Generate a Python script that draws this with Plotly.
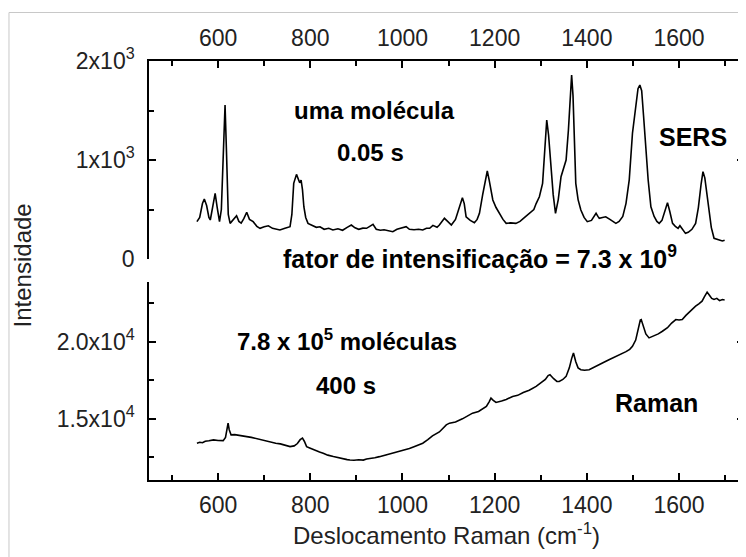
import plotly.graph_objects as go

# ---- data ----
sers_x = [554, 560, 566, 570, 575, 580, 583, 588, 593.5, 598, 603, 607, 611, 615, 618, 622, 626, 632, 640, 645,
          650, 656, 662, 668, 676, 684, 691, 700, 709, 718, 726, 734, 745, 756, 760, 764, 770, 774, 777, 780,
          783, 786, 790, 795, 805, 813, 821, 830, 840, 849, 860, 870, 880, 889, 897, 905, 914, 922, 929, 936,
          943, 952, 960, 970, 979, 988, 995, 1008, 1015, 1025, 1035, 1044, 1052, 1059, 1066, 1075, 1080, 1091, 1098, 1106,
          1115, 1122, 1130, 1134, 1138, 1147, 1156, 1162, 1167, 1174, 1180, 1184, 1188, 1196, 1203, 1210, 1218, 1225, 1235, 1246,
          1255, 1265, 1275, 1285, 1290, 1297, 1304, 1309, 1313, 1317, 1322, 1327, 1332, 1338, 1344, 1350, 1355, 1360, 1364, 1367,
          1370, 1373, 1376, 1381, 1387, 1394, 1401, 1410, 1416, 1420, 1424, 1427, 1434, 1441, 1450, 1456, 1463, 1470, 1478, 1485,
          1492, 1499, 1506, 1511, 1515, 1519, 1523, 1528, 1533, 1539, 1546, 1552, 1557, 1563, 1569, 1575, 1580, 1586, 1592, 1598,
          1602, 1607, 1614, 1620, 1628, 1636, 1642, 1648, 1652, 1656, 1661, 1665, 1670, 1676, 1684, 1694, 1699]
sers_y = [377, 420, 560, 606, 540, 420, 394, 520, 663, 520, 377, 500, 1100, 1555, 1100, 450, 360, 390, 437, 380,
          363, 410, 472, 400, 377, 330, 310, 325, 336, 310, 300, 293, 310, 326, 450, 764, 855, 800, 770, 798,
          700, 528, 420, 360, 340, 320, 326, 300, 310, 293, 305, 290, 320, 343, 315, 300, 312, 310, 330, 350,
          300, 290, 295, 285, 276, 300, 310, 326, 300, 295, 300, 293, 310, 310, 340, 320, 343, 411, 380, 343,
          400, 500, 619, 560, 427, 390, 367, 400, 461, 650, 820, 889, 800, 596, 520, 461, 400, 360, 365, 360,
          380, 420, 461, 500, 560, 629, 764, 1100, 1404, 1250, 932, 650, 461, 600, 831, 920, 1000, 1300, 1700, 1858,
          1650, 1100, 764, 600, 495, 420, 377, 390, 430, 461, 430, 411, 420, 427, 400, 380, 360, 380, 430, 562,
          800, 1270, 1550, 1720, 1757, 1700, 1450, 1101, 800, 528, 430, 380, 360, 390, 480, 569, 480, 360, 330, 310,
          336, 300, 259, 270, 300, 360, 520, 760, 882, 820, 650, 495, 320, 209, 195, 182, 190]

raman_x = [554, 560, 566, 572, 580, 590, 600, 611, 616, 619, 621.6, 624, 628, 636, 645, 655, 662, 672, 682, 693,
           705, 715, 725, 735, 745, 756, 765, 772, 778, 783, 787, 792, 800, 810, 820, 828, 838, 850, 860, 870,
           880, 886, 895, 905, 915, 922, 932, 940, 950, 960, 972, 985, 994, 1005, 1015, 1025, 1035, 1044, 1055, 1065,
           1080, 1095, 1102, 1115, 1130, 1140, 1152, 1165, 1175, 1182, 1188, 1192, 1197, 1203, 1215, 1225, 1239, 1250, 1262, 1275,
           1290, 1300, 1310, 1316, 1320, 1328, 1335, 1340, 1348, 1355, 1362, 1367, 1371, 1376, 1381, 1387, 1395, 1405, 1415, 1425,
           1436, 1448, 1460, 1472, 1485, 1493, 1499, 1506, 1512, 1516, 1518, 1522, 1528, 1535, 1545, 1555, 1564, 1575, 1584, 1593,
           1600, 1607, 1615, 1625, 1636, 1643, 1650, 1655, 1661, 1666, 1671, 1676, 1682, 1688, 1694, 1699]
raman_y = [13420, 13480, 13450, 13550, 13580, 13636, 13600, 13591, 13800, 14400, 14721, 14300, 13961, 13980, 13920, 13900, 13851, 13800, 13720, 13650,
           13571, 13500, 13420, 13380, 13280, 13201, 13250, 13400, 13650, 13747, 13550, 13201, 13100, 12950, 12850, 12773, 12650, 12560, 12480, 12400,
           12360, 12338, 12320, 12350, 12330, 12400, 12430, 12480, 12552, 12630, 12720, 12800, 12877, 12980, 13080, 13200, 13320, 13422, 13650, 13900,
           14150, 14611, 14721, 14800, 15000, 15150, 15370, 15480, 15650, 15800, 16100, 16344, 16200, 16060, 16150, 16250, 16448, 16520, 16700, 16850,
           17098, 17300, 17550, 17800, 17858, 17600, 17420, 17422, 17550, 17747, 18300, 18900, 19267, 18700, 18300, 18182, 18150, 18182, 18350, 18500,
           18650, 18831, 19000, 19150, 19350, 19500, 19695, 20100, 20800, 21400, 21430, 21000, 20500, 20241, 20350, 20500, 20670, 20900, 21200, 21430,
           21400, 21430, 21700, 22000, 22293, 22450, 22618, 22900, 23203, 23000, 22800, 22728, 22800, 22650, 22728, 22700]

x_tickvals = [600, 800, 1000, 1200, 1400, 1600]
x_ticktext = ["600", "800", "1000", "1200", "1400", "1600"]
x_minor = [500, 700, 900, 1100, 1300, 1500, 1700]
sers_tickvals = [0, 1000, 2000]
sers_ticktext = ["0", "1x10<sup>3</sup>", "2x10<sup>3</sup>"]
sers_minor = [500, 1500]
raman_tickvals = [15000, 20000]
raman_ticktext = ["1.5x10<sup>4</sup>", "2.0x10<sup>4</sup>"]
raman_minor = [12500, 17500, 22500]

FONT = "Liberation Sans, Arial, Helvetica, sans-serif"
OFF = 8  # page body margin
W, H = 746 - OFF, 557 - OFF
ML, MR, MT, MB = 149 - OFF, 0, 61 - OFF, 557 - 480
PW, PH = W - ML - MR, H - MT - MB


def px(xp):  # page x pixel -> paper
    return (xp - OFF - ML) / PW


def py(yp):  # page y pixel -> paper
    return (H - MB - (yp - OFF)) / PH


fig = go.Figure()
fig.add_trace(go.Scatter(x=sers_x, y=sers_y, mode="lines", line=dict(color="black", width=1.6),
                         xaxis="x", yaxis="y", showlegend=False, hoverinfo="skip"))
fig.add_trace(go.Scatter(x=raman_x, y=raman_y, mode="lines", line=dict(color="black", width=1.6),
                         xaxis="x2", yaxis="y2", showlegend=False, hoverinfo="skip"))

xrange = [450, 1741]
common_x = dict(range=xrange, showgrid=False, zeroline=False, showline=True, linecolor="black", linewidth=1.5,
                ticks="inside", ticklen=7, tickwidth=1.5, tickcolor="black",
                tickmode="array", tickvals=x_tickvals, ticktext=x_ticktext,
                minor=dict(tickmode="array", tickvals=x_minor, ticks="inside", ticklen=5, tickwidth=1.5, tickcolor="black"),
                tickfont=dict(family=FONT, size=23, color="#222"), ticklabelstandoff=4)
common_y = dict(showgrid=False, zeroline=False, showline=True, linecolor="black", linewidth=1.5,
                ticks="inside", ticklen=7, tickwidth=1.5, tickcolor="black", mirror="allticks",
                tickfont=dict(family=FONT, size=23, color="#222"), ticklabelstandoff=8)

top_lo = py(259)
bot_hi = py(282)

fig.update_layout(
    width=W, height=H,
    margin=dict(l=ML, r=MR, t=MT, b=MB),
    paper_bgcolor="white", plot_bgcolor="white",
    xaxis=dict(**common_x, anchor="y", side="top", domain=[0, 1]),
    yaxis=dict(**common_y, domain=[top_lo, 1], range=[0, 2000], anchor="x",
               tickmode="array", tickvals=sers_tickvals, ticktext=sers_ticktext,
               minor=dict(tickmode="array", tickvals=sers_minor, ticks="inside", ticklen=5, tickwidth=1.5, tickcolor="black")),
    xaxis2=dict(**common_x, anchor="y2", side="bottom", domain=[0, 1],
                title=dict(text="Deslocamento Raman (cm<sup>-1</sup>)", font=dict(family=FONT, size=24, color="#222"), standoff=10)),
    yaxis2=dict(**common_y, domain=[0, bot_hi], range=[11040, 23860], anchor="x2",
                tickmode="array", tickvals=raman_tickvals, ticktext=raman_ticktext,
                minor=dict(tickmode="array", tickvals=raman_minor, ticks="inside", ticklen=5, tickwidth=1.5, tickcolor="black")),
)


def add_text(text, xp, yp, size=24, angle=0, bold=True):
    fig.add_annotation(text=f"<b>{text}</b>" if bold else text, xref="paper", yref="paper",
                       x=px(xp), y=py(yp), showarrow=False, xanchor="center", yanchor="middle",
                       textangle=angle, font=dict(family=FONT, size=size, color="black"))


add_text("uma molécula", 375, 110)
add_text("0.05 s", 371, 152)
add_text("SERS", 695, 137, size=25)
add_text("fator de intensificação = 7.3 x 10<sup>9</sup>", 481, 257, size=25)
add_text("7.8 x 10<sup>5</sup> moléculas", 348, 340)
add_text("400 s", 347, 385)
add_text("Raman", 658, 403, size=25)
fig.add_annotation(text="Intensidade", xref="paper", yref="paper", x=px(22), y=py(265), showarrow=False,
                   textangle=-90, xanchor="center", yanchor="middle", font=dict(family=FONT, size=24, color="#222"))

# light frame around the figure (left and top edges visible)
fig.add_shape(type="line", xref="paper", yref="paper", x0=px(8.5), x1=px(8.5), y0=py(557), y1=py(12.5),
              line=dict(color="#c8c8c8", width=1), layer="above")
fig.add_shape(type="line", xref="paper", yref="paper", x0=px(8.5), x1=px(746), y0=py(12.5), y1=py(12.5),
              line=dict(color="#c8c8c8", width=1), layer="above")

fig.write_html("out.html")
